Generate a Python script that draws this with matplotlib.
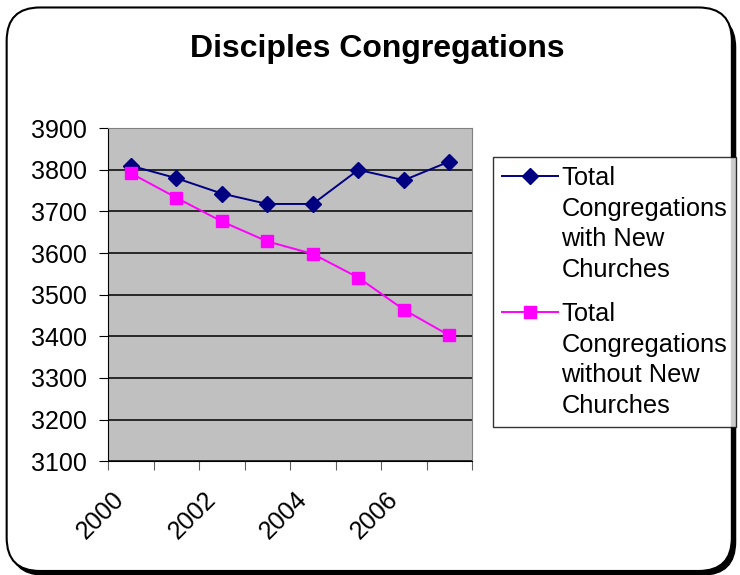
import matplotlib
matplotlib.use('Agg')
import matplotlib.pyplot as plt
from matplotlib.patches import FancyBboxPatch
from matplotlib.legend_handler import HandlerLine2D
from matplotlib.transforms import ScaledTranslation

plt.rcParams['font.family'] = ['Liberation Sans', 'DejaVu Sans']

# data
years = ['2000', '2001', '2002', '2003', '2004', '2005', '2006', '2007']
with_new = [3810, 3780, 3743, 3718, 3718, 3800, 3775, 3820]
without_new = [3792, 3733, 3676, 3628, 3598, 3541, 3464, 3402]
yticks = [3100, 3200, 3300, 3400, 3500, 3600, 3700, 3800, 3900]


class TopLineHandler(HandlerLine2D):
    # put the legend key next to the first line of a multi-line label
    def __init__(self, shift, **kw):
        super().__init__(**kw)
        self.shift = shift

    def create_artists(self, legend, orig_handle, xdescent, ydescent, width, height,
                       fontsize, trans):
        artists = super().create_artists(legend, orig_handle, xdescent, ydescent,
                                         width, height, fontsize, trans)
        for a in artists:
            a.set_ydata([y + self.shift for y in a.get_ydata()])
        return artists


fig = plt.figure(figsize=(7.4, 5.75), dpi=100)

# rounded frame with shadow
shadow = FancyBboxPatch((0.014, 0.0), 0.98, 0.975, boxstyle='round,pad=0,rounding_size=0.045',
                        transform=fig.transFigure, facecolor='black', edgecolor='black',
                        mutation_aspect=740 / 575, zorder=-3)
frame = FancyBboxPatch((0.009, 0.007), 0.98, 0.98, boxstyle='round,pad=0,rounding_size=0.045',
                       transform=fig.transFigure, facecolor='white', edgecolor='black',
                       linewidth=1.5, mutation_aspect=740 / 575, zorder=-2)
fig.patches.extend([shadow, frame])

ax = fig.add_axes([0.146, 0.198, 0.492, 0.579])
ax.set_facecolor('#C0C0C0')
x = list(range(len(years)))

l1, = ax.plot(x, with_new, color='#000080', marker='D', markersize=8, linewidth=1.4,
              label='Total\nCongregations\nwith New\nChurches', zorder=3)
l2, = ax.plot(x, without_new, color='#FF00FF', marker='s', markersize=8.5, linewidth=1.4,
              label='Total\nCongregations\nwithout New\nChurches', zorder=3)

ax.set_xlim(-0.5, len(years) - 0.5)
ax.set_ylim(3100, 3900)
ax.set_yticks(yticks)
ax.yaxis.grid(True, color='black', linewidth=1.1)
ax.set_axisbelow(True)
ax.tick_params(axis='y', labelsize=18, length=6.5, pad=8.5, direction='out', color='black')

# ticks at category boundaries, labels every other year at category centers
ax.set_xticks([i - 0.5 for i in range(len(years) + 1)])
ax.set_xticklabels([])
ax.tick_params(axis='x', which='major', length=6.5, direction='out', color='#606060')
ax.set_xticks(x[::2], minor=True)
ax.set_xticklabels(years[::2], minor=True, rotation=45, ha='right', va='center',
                   rotation_mode='anchor', fontsize=18)
ax.tick_params(axis='x', which='minor', length=0, pad=25)
shift = ScaledTranslation(-10 / 100, 0, fig.dpi_scale_trans)
for lab in ax.get_xticklabels(minor=True):
    lab.set_transform(lab.get_transform() + shift)

for side in ['top', 'right']:
    ax.spines[side].set_color('#808080')
ax.spines['left'].set_color('black')
ax.spines['bottom'].set_color('black')

fig.text(0.51, 0.914, 'Disciples Congregations', ha='center', va='center',
         fontsize=23, fontweight='bold')

leg = fig.legend(handles=[l1, l2], loc='upper left', bbox_to_anchor=(0.666, 0.727),
                 fontsize=18.3, frameon=True, fancybox=False, edgecolor='black',
                 handlelength=2.2, handletextpad=0.15, borderpad=0.35, labelspacing=0.8,
                 borderaxespad=0,
                 handler_map={l1: TopLineHandler(35), l2: TopLineHandler(35)})
leg.get_frame().set_linewidth(1)
for t in leg.get_texts():
    t.set_linespacing(1.35)

fig.savefig('out.png', dpi=100)
